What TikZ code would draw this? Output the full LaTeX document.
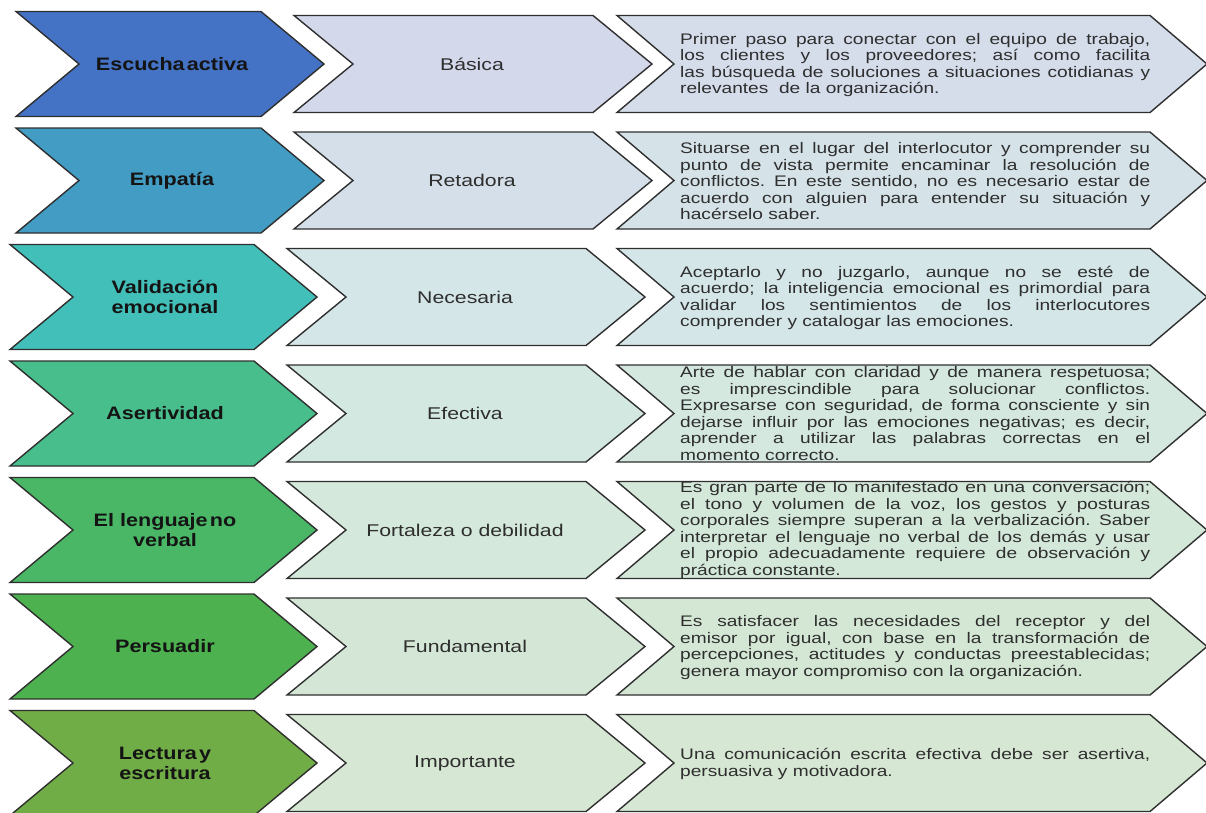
\documentclass[tikz,border=0pt]{standalone}
\usepackage{fontspec}
\setmainfont{Liberation Sans}
\newfontfamily\fonta{Liberation Sans}[FakeStretch=1.2]
\newfontfamily\fontb{Liberation Sans}[FakeStretch=1.25]
\newfontfamily\fontc{Liberation Sans}[FakeStretch=1.25]
\frenchspacing
\definecolor{ca1}{HTML}{4472C4}
\definecolor{ca2}{HTML}{439CC4}
\definecolor{ca3}{HTML}{43BFB9}
\definecolor{ca4}{HTML}{47BE8C}
\definecolor{ca5}{HTML}{4AB767}
\definecolor{ca6}{HTML}{4CB14E}
\definecolor{ca7}{HTML}{71AD47}
\definecolor{cb1}{HTML}{D4D8EB}
\definecolor{cb2}{HTML}{D5DFE9}
\definecolor{cb3}{HTML}{D5E6E8}
\definecolor{cb4}{HTML}{D4E8E2}
\definecolor{cb5}{HTML}{D4E8DB}
\definecolor{cb6}{HTML}{D4E7D6}
\definecolor{cb7}{HTML}{D6E7D3}
\definecolor{cc1}{HTML}{D5DCEA}
\definecolor{cc2}{HTML}{D5E2E7}
\definecolor{cc3}{HTML}{D5E6E8}
\definecolor{cc4}{HTML}{D4E8E0}
\definecolor{cc5}{HTML}{D4E8DA}
\definecolor{cc6}{HTML}{D4E7D5}
\definecolor{cc7}{HTML}{D6E7D3}
\definecolor{edge}{HTML}{2F2F2F}
\newcommand\chevshape[6]{% style, xl, yc, w, h, s
  \draw[#1] (#2,#3-#5) -- ++(#4,0) -- ++(#6,#5) -- ++(-#6,#5) -- ++(-#4,0) -- ++(#6,-#5) -- cycle;}
\newcommand\justline[1]{\makebox[470pt][s]{#1}}
\newcommand\lastline[1]{\makebox[470pt][l]{#1}}
\begin{document}
\begin{tikzpicture}[x=1pt,y=-1pt,
  shapebox/.style={draw=edge,line width=1.4pt,line join=miter},
  labela/.style={font=\fonta\bfseries\fontsize{18}{20}\selectfont,text=black!92,align=center,inner sep=0pt},
  labelb/.style={font=\fontb\fontsize{17}{19}\selectfont,text=black!82,align=center,inner sep=0pt},
  labelc/.style={font=\fontc\fontsize{15.3}{16.5}\selectfont,text=black!82,align=left,inner sep=0pt,anchor=west}]
\useasboundingbox (0,0) rectangle (1206,812);
% row 1
\chevshape{shapebox,fill=ca1}{16}{64}{245}{52.5}{63}
\chevshape{shapebox,fill=cb1}{294}{64}{299}{48.5}{59}
\chevshape{shapebox,fill=cc1}{617}{64}{533}{48.5}{57}
\node[labela] (a1) at (172,64) {Escucha\hspace{0.12em}activa};
\node[labelb] (b1) at (472,64) {Básica};
\node[labelc] (c1) at (680,65) {\justline{Primer paso para conectar con el equipo de trabajo,}\\\justline{los clientes y los proveedores; así como facilita}\\\justline{las búsqueda de soluciones a situaciones cotidianas y}\\\lastline{relevantes\ \ de la organización.}};
% row 2
\chevshape{shapebox,fill=ca2}{16}{180.5}{245}{52.5}{63}
\chevshape{shapebox,fill=cb2}{294}{180.5}{299}{48.5}{59}
\chevshape{shapebox,fill=cc2}{617}{180.5}{533}{48.5}{57}
\node[labela] (a2) at (172,180.5) {Empatía};
\node[labelb] (b2) at (472,180.5) {Retadora};
\node[labelc] (c2) at (680,181.5) {\justline{Situarse en el lugar del interlocutor y comprender su}\\\justline{punto de vista permite encaminar la resolución de}\\\justline{conflictos. En este sentido, no es necesario estar de}\\\justline{acuerdo con alguien para entender su situación y}\\\lastline{hacérselo saber.}};
% row 3
\chevshape{shapebox,fill=ca3}{10}{297}{244}{52.5}{63}
\chevshape{shapebox,fill=cb3}{287}{297}{299}{48.5}{59}
\chevshape{shapebox,fill=cc3}{617}{297}{533}{48.5}{57}
\node[labela] (a3) at (165,297) {Validación\\emocional};
\node[labelb] (b3) at (465,297) {Necesaria};
\node[labelc] (c3) at (680,298) {\justline{Aceptarlo y no juzgarlo, aunque no se esté de}\\\justline{acuerdo; la inteligencia emocional es primordial para}\\\justline{validar los sentimientos de los interlocutores}\\\lastline{comprender y catalogar las emociones.}};
% row 4
\chevshape{shapebox,fill=ca4}{10}{413.5}{244}{52.5}{63}
\chevshape{shapebox,fill=cb4}{287}{413.5}{299}{48.5}{59}
\chevshape{shapebox,fill=cc4}{617}{413.5}{533}{48.5}{57}
\node[labela] (a4) at (165,413.5) {Asertividad};
\node[labelb] (b4) at (465,413.5) {Efectiva};
\node[labelc] (c4) at (680,413.5) {\justline{Arte de hablar con claridad y de manera respetuosa;}\\\justline{es imprescindible para solucionar conflictos.}\\\justline{Expresarse con seguridad, de forma consciente y sin}\\\justline{dejarse influir por las emociones negativas; es decir,}\\\justline{aprender a utilizar las palabras correctas en el}\\\lastline{momento correcto.}};
% row 5
\chevshape{shapebox,fill=ca5}{10}{530}{244}{52.5}{63}
\chevshape{shapebox,fill=cb5}{287}{530}{299}{48.5}{59}
\chevshape{shapebox,fill=cc5}{617}{530}{533}{48.5}{57}
\node[labela] (a5) at (165,530) {El lenguaje\hspace{0.12em}no\\verbal};
\node[labelb] (b5) at (465,530) {Fortaleza o debilidad};
\node[labelc] (c5) at (680,530) {\justline{Es gran parte de lo manifestado en una conversación;}\\\justline{el tono y volumen de la voz, los gestos y posturas}\\\justline{corporales siempre superan a la verbalización. Saber}\\\justline{interpretar el lenguaje no verbal de los demás y usar}\\\justline{el propio adecuadamente requiere de observación y}\\\lastline{práctica constante.}};
% row 6
\chevshape{shapebox,fill=ca6}{10}{646.5}{244}{52.5}{63}
\chevshape{shapebox,fill=cb6}{287}{646.5}{299}{48.5}{59}
\chevshape{shapebox,fill=cc6}{617}{646.5}{533}{48.5}{57}
\node[labela] (a6) at (165,646.5) {Persuadir};
\node[labelb] (b6) at (465,646.5) {Fundamental};
\node[labelc] (c6) at (680,647.5) {\justline{Es satisfacer las necesidades del receptor y del}\\\justline{emisor por igual, con base en la transformación de}\\\justline{percepciones, actitudes y conductas preestablecidas;}\\\lastline{genera mayor compromiso con la organización.}};
% row 7
\chevshape{shapebox,fill=ca7}{10}{763}{244}{52.5}{63}
\chevshape{shapebox,fill=cb7}{287}{763}{299}{48.5}{59}
\chevshape{shapebox,fill=cc7}{617}{763}{533}{48.5}{57}
\node[labela] (a7) at (165,763) {Lectura\hspace{0.12em}y\\escritura};
\node[labelb] (b7) at (465,763) {Importante};
\node[labelc] (c7) at (680,764) {\justline{Una comunicación escrita efectiva debe ser asertiva,}\\\lastline{persuasiva y motivadora.}};
\end{tikzpicture}
\end{document}
